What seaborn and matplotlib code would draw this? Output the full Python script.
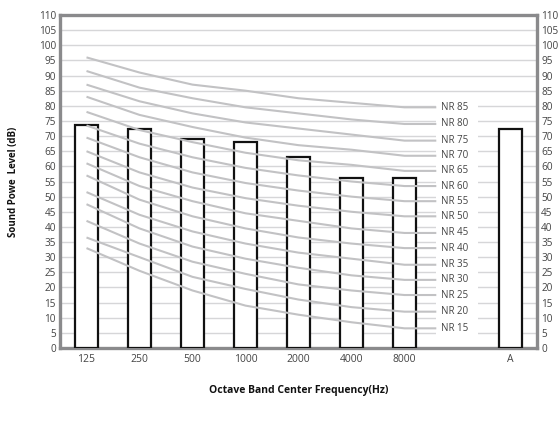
import matplotlib
matplotlib.use("Agg")
import matplotlib.pyplot as plt
import seaborn as sns
import pandas as pd
from matplotlib.patches import Rectangle

# ---- data ----
bands = ["125", "250", "500", "1000", "2000", "4000", "8000", " ", "A"]
bar_cats = ["125", "250", "500", "1000", "2000", "4000", "8000", "A"]
bar_vals = [73.5, 72.5, 69, 68, 63, 56, 56, 72.5]

nr_names = ["NR 85", "NR 80", "NR 75", "NR 70", "NR 65", "NR 60", "NR 55", "NR 50",
            "NR 45", "NR 40", "NR 35", "NR 30", "NR 25", "NR 20", "NR 15"]
nr85 = [96, 91, 87, 85, 82.5, 81, 79.5]
nr80 = [91.5, 86, 82.5, 79.5, 77.5, 75.5, 74]
nr75 = [87, 81.5, 77.5, 74.5, 72.5, 70.5, 68.5]
nr70 = [83, 77, 73, 69.5, 67, 65.5, 63.5]
nr65 = [78, 72, 68, 64.5, 62, 60.5, 58.5]
nr60 = [73.5, 67.5, 63, 59.5, 57, 55, 53.5]
nr55 = [69.5, 63, 58, 54.5, 52, 50, 48.5]
nr50 = [65, 58, 53, 49.5, 47, 45, 43.5]
nr45 = [61, 53.5, 48.5, 44.5, 42, 39.5, 38]
nr40 = [57, 49, 43.5, 39.5, 36.5, 34.5, 33]
nr35 = [51.5, 44, 38.5, 34.5, 31.5, 29.5, 27.5]
nr30 = [47.5, 39.5, 33.5, 29.5, 26.5, 24, 22.5]
nr25 = [42, 34.5, 28.5, 24.5, 21, 19, 17.5]
nr20 = [36.5, 30, 23.5, 19.5, 16, 13.5, 12]
nr15 = [33, 25.5, 19, 14, 11, 8.5, 6.5]
nr_curves = [nr85, nr80, nr75, nr70, nr65, nr60, nr55, nr50,
             nr45, nr40, nr35, nr30, nr25, nr20, nr15]
y_ticks = list(range(0, 111, 5))

# ---- style ----
sns.set_style("white")
plt.rcParams["font.family"] = ["Open Sans", "DejaVu Sans"]

fig = plt.figure(figsize=(5.6, 4.23), dpi=100)
ax = fig.add_axes([60 / 560, 1 - 348 / 423, 477 / 560, 333 / 423])

df = pd.DataFrame({"band": bar_cats, "level": bar_vals})
sns.barplot(data=df, x="band", y="level", order=bands, ax=ax, width=0.42,
            color="white", edgecolor="#111111", linewidth=1.6, zorder=3)

# NR curves (extended flat past the last octave band to the label column)
xs = list(range(7))
for name, vals in zip(nr_names, nr_curves):
    ax.plot(xs + [6.6], vals + [vals[-1]], color="#c2c2c4", lw=1.5,
            zorder=4, solid_capstyle="butt")
    ax.text(6.68, vals[-1], name, fontsize=7, color="#444444",
            va="center", ha="left", zorder=6)

# white column behind the labels (hides the grid there)
ax.add_patch(Rectangle((6.6, 3), 0.78, 79.5, facecolor="white",
                       edgecolor="none", zorder=2))

ax.set_xlim(-0.5, 8.5)
ax.set_ylim(0, 110)
ax.set_yticks(y_ticks)
ax.yaxis.grid(True, color="#d6d6d8", lw=1.0, zorder=0)
ax.set_axisbelow(True)
ax.tick_params(axis="y", length=0, labelsize=7.2, labelcolor="#444444",
               right=True, labelright=True, pad=3)
ax.tick_params(axis="x", length=0, labelsize=7.5, labelcolor="#444444", pad=4)
for s in ax.spines.values():
    s.set_color("#8a8a8c")
    s.set_linewidth(2.4)

ax.set_xlabel("Octave Band Center Frequency(Hz)", fontsize=7.5,
              fontweight="bold", color="#111111", labelpad=15)
ax.set_ylabel("Sound Powe  Level (dB)", fontsize=7, fontweight="bold",
              color="#111111", labelpad=14)

fig.savefig("out.png", dpi=100)
